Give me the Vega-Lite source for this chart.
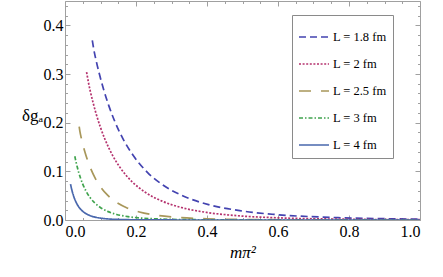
{
  "$schema": "https://vega.github.io/schema/vega-lite/v6.json",
  "autosize": {"type": "none"},
  "padding": {"left": 65, "top": 1, "right": 23, "bottom": 57},
  "width": 355,
  "height": 219,
  "background": "white",
  "config": {
    "view": {"stroke": null},
    "axis": {"domainColor": "#a0a0a0", "tickColor": "#a0a0a0", "labelFont": "Liberation Serif, Times New Roman, serif", "labelFontSize": 16, "labelColor": "#000", "titleFont": "Liberation Serif, Times New Roman, serif", "titleFontWeight": "normal", "titleColor": "#000", "titleFontSize": 17, "grid": false},
    "legend": {"labelFont": "Liberation Serif, Times New Roman, serif"}
  },
  "data": {"values": [
    {"s":"L = 1.8 fm","m2":0.0769,"dg":0.3690},{"s":"L = 1.8 fm","m2":0.0812,"dg":0.3500},{"s":"L = 1.8 fm","m2":0.0876,"dg":0.3278},{"s":"L = 1.8 fm","m2":0.0976,"dg":0.2978},{"s":"L = 1.8 fm","m2":0.1082,"dg":0.2698},{"s":"L = 1.8 fm","m2":0.1231,"dg":0.2355},{"s":"L = 1.8 fm","m2":0.1389,"dg":0.2050},{"s":"L = 1.8 fm","m2":0.1645,"dg":0.1652},{"s":"L = 1.8 fm","m2":0.1923,"dg":0.1324},{"s":"L = 1.8 fm","m2":0.2327,"dg":0.0975},{"s":"L = 1.8 fm","m2":0.2769,"dg":0.0713},{"s":"L = 1.8 fm","m2":0.3376,"dg":0.0479},{"s":"L = 1.8 fm","m2":0.4043,"dg":0.0317},{"s":"L = 1.8 fm","m2":0.4922,"dg":0.0192},{"s":"L = 1.8 fm","m2":0.5889,"dg":0.0115},{"s":"L = 1.8 fm","m2":0.7691,"dg":0.00484},{"s":"L = 1.8 fm","m2":0.9734,"dg":0.0020},{"s":"L = 1.8 fm","m2":1.0,"dg":0.0018},
    {"s":"L = 2 fm","m2":0.0608,"dg":0.3040},{"s":"L = 2 fm","m2":0.0658,"dg":0.2835},{"s":"L = 2 fm","m2":0.0710,"dg":0.2654},{"s":"L = 2 fm","m2":0.0791,"dg":0.2412},{"s":"L = 2 fm","m2":0.0876,"dg":0.2185},{"s":"L = 2 fm","m2":0.0997,"dg":0.1907},{"s":"L = 2 fm","m2":0.1125,"dg":0.1660},{"s":"L = 2 fm","m2":0.1332,"dg":0.1338},{"s":"L = 2 fm","m2":0.1557,"dg":0.1072},{"s":"L = 2 fm","m2":0.1884,"dg":0.0790},{"s":"L = 2 fm","m2":0.2243,"dg":0.0578},{"s":"L = 2 fm","m2":0.2734,"dg":0.0388},{"s":"L = 2 fm","m2":0.3274,"dg":0.0257},{"s":"L = 2 fm","m2":0.3987,"dg":0.0156},{"s":"L = 2 fm","m2":0.4769,"dg":0.00933},{"s":"L = 2 fm","m2":0.6229,"dg":0.00392},{"s":"L = 2 fm","m2":0.7884,"dg":0.00162},{"s":"L = 2 fm","m2":0.9733,"dg":0.00066},{"s":"L = 2 fm","m2":1.0,"dg":0.00059},
    {"s":"L = 2.5 fm","m2":0.0399,"dg":0.1920},{"s":"L = 2.5 fm","m2":0.0421,"dg":0.1815},{"s":"L = 2.5 fm","m2":0.0454,"dg":0.1699},{"s":"L = 2.5 fm","m2":0.0506,"dg":0.1543},{"s":"L = 2.5 fm","m2":0.0561,"dg":0.1398},{"s":"L = 2.5 fm","m2":0.0638,"dg":0.1221},{"s":"L = 2.5 fm","m2":0.0720,"dg":0.1062},{"s":"L = 2.5 fm","m2":0.0853,"dg":0.0856},{"s":"L = 2.5 fm","m2":0.0997,"dg":0.0686},{"s":"L = 2.5 fm","m2":0.1206,"dg":0.0505},{"s":"L = 2.5 fm","m2":0.1435,"dg":0.0370},{"s":"L = 2.5 fm","m2":0.1750,"dg":0.0248},{"s":"L = 2.5 fm","m2":0.2096,"dg":0.0164},{"s":"L = 2.5 fm","m2":0.2552,"dg":0.00996},{"s":"L = 2.5 fm","m2":0.3052,"dg":0.00597},{"s":"L = 2.5 fm","m2":0.3987,"dg":0.00251},{"s":"L = 2.5 fm","m2":0.5046,"dg":0.00104},{"s":"L = 2.5 fm","m2":0.6229,"dg":0.000425},{"s":"L = 2.5 fm","m2":0.8970,"dg":0.00007},{"s":"L = 2.5 fm","m2":1.0,"dg":0.00003},
    {"s":"L = 3 fm","m2":0.0277,"dg":0.1310},{"s":"L = 3 fm","m2":0.0292,"dg":0.1255},{"s":"L = 3 fm","m2":0.0315,"dg":0.1180},{"s":"L = 3 fm","m2":0.0351,"dg":0.1072},{"s":"L = 3 fm","m2":0.0389,"dg":0.0971},{"s":"L = 3 fm","m2":0.0443,"dg":0.0848},{"s":"L = 3 fm","m2":0.0500,"dg":0.0738},{"s":"L = 3 fm","m2":0.0592,"dg":0.0595},{"s":"L = 3 fm","m2":0.0692,"dg":0.0476},{"s":"L = 3 fm","m2":0.0838,"dg":0.0351},{"s":"L = 3 fm","m2":0.0997,"dg":0.0257},{"s":"L = 3 fm","m2":0.1215,"dg":0.0172},{"s":"L = 3 fm","m2":0.1455,"dg":0.0114},{"s":"L = 3 fm","m2":0.1772,"dg":0.00692},{"s":"L = 3 fm","m2":0.2120,"dg":0.00415},{"s":"L = 3 fm","m2":0.2769,"dg":0.00174},{"s":"L = 3 fm","m2":0.3504,"dg":0.00072},{"s":"L = 3 fm","m2":0.4326,"dg":0.0003},{"s":"L = 3 fm","m2":0.6229,"dg":0.00005},{"s":"L = 3 fm","m2":1.0,"dg":0.0},
    {"s":"L = 4 fm","m2":0.0156,"dg":0.0737},{"s":"L = 4 fm","m2":0.0165,"dg":0.0706},{"s":"L = 4 fm","m2":0.0177,"dg":0.0664},{"s":"L = 4 fm","m2":0.0198,"dg":0.0603},{"s":"L = 4 fm","m2":0.0219,"dg":0.0546},{"s":"L = 4 fm","m2":0.0249,"dg":0.0477},{"s":"L = 4 fm","m2":0.0281,"dg":0.0415},{"s":"L = 4 fm","m2":0.0333,"dg":0.0335},{"s":"L = 4 fm","m2":0.0389,"dg":0.0268},{"s":"L = 4 fm","m2":0.0471,"dg":0.0197},{"s":"L = 4 fm","m2":0.0561,"dg":0.0144},{"s":"L = 4 fm","m2":0.0684,"dg":0.00969},{"s":"L = 4 fm","m2":0.0819,"dg":0.00642},{"s":"L = 4 fm","m2":0.0997,"dg":0.00389},{"s":"L = 4 fm","m2":0.1193,"dg":0.00233},{"s":"L = 4 fm","m2":0.1558,"dg":0.00098},{"s":"L = 4 fm","m2":0.1971,"dg":0.00041},{"s":"L = 4 fm","m2":0.2434,"dg":0.00017},{"s":"L = 4 fm","m2":0.3504,"dg":0.00003},{"s":"L = 4 fm","m2":1.0,"dg":0.0}
  ]},
  "layer": [
    {
      "mark": {"type": "line", "strokeWidth": 1.7, "interpolate": "monotone", "clip": true},
      "encoding": {
        "x": {"field": "m2", "type": "quantitative", "scale": {"domain": [0, 1], "nice": false},
              "axis": {"orient": "bottom", "values": [0, 0.2, 0.4, 0.6, 0.8, 1.0], "format": ".1f", "tickSize": -5, "labelPadding": 8, "title": "mπ²", "titleFontStyle": "italic", "titlePadding": 5}},
        "y": {"field": "dg", "type": "quantitative", "scale": {"domain": [0, 0.45], "nice": false},
              "axis": {"orient": "left", "values": [0, 0.1, 0.2, 0.3, 0.4], "format": ".1f", "tickSize": -5, "labelPadding": 7, "title": "δgₐ", "titleAngle": 0, "titleX": -33, "titleY": 114, "titleAlign": "center", "titleBaseline": "middle"}},
        "color": {"field": "s", "type": "nominal",
                  "scale": {"domain": ["L = 1.8 fm", "L = 2 fm", "L = 2.5 fm", "L = 3 fm", "L = 4 fm"], "range": ["#4343b0", "#b5326e", "#a8975a", "#3fa34d", "#4a68ad"]},
                  "legend": {"title": null, "orient": "none", "legendX": 227, "legendY": 14, "symbolType": "stroke", "symbolSize": 900, "symbolStrokeWidth": 1.7, "labelFont": "Liberation Serif, Times New Roman, serif", "labelFontSize": 12.5, "labelColor": "#000", "labelOffset": 3, "strokeColor": "#8a8a8a", "fillColor": "white", "padding": 6, "rowPadding": 4}},
        "strokeDash": {"field": "s", "type": "nominal",
                  "scale": {"domain": ["L = 1.8 fm", "L = 2 fm", "L = 2.5 fm", "L = 3 fm", "L = 4 fm"], "range": [[7, 4], [2, 1.6], [12, 10], [4, 2, 1.5, 2], [1, 0]]},
                  "legend": {"title": null, "orient": "none", "legendX": 227, "legendY": 14, "symbolType": "stroke", "symbolSize": 900, "symbolStrokeWidth": 1.7, "labelFont": "Liberation Serif, Times New Roman, serif", "labelFontSize": 12.5, "labelColor": "#000", "labelOffset": 3, "strokeColor": "#8a8a8a", "fillColor": "white", "padding": 6, "rowPadding": 4}}
      }
    },
    {
      "mark": {"type": "line", "opacity": 0},
      "encoding": {
        "x": {"field": "m2", "type": "quantitative", "axis": {"orient": "bottom", "values": [0.05, 0.1, 0.15, 0.25, 0.3, 0.35, 0.45, 0.5, 0.55, 0.65, 0.7, 0.75, 0.85, 0.9, 0.95], "labels": false, "domain": false, "tickSize": -2.5, "title": null}},
        "y": {"field": "dg", "type": "quantitative", "axis": {"orient": "left", "values": [0.02, 0.04, 0.06, 0.08, 0.12, 0.14, 0.16, 0.18, 0.22, 0.24, 0.26, 0.28, 0.32, 0.34, 0.36, 0.38, 0.42, 0.44], "labels": false, "domain": false, "tickSize": -2.5, "title": null}},
        "detail": {"field": "s"}
      }
    },
    {
      "mark": {"type": "line", "opacity": 0},
      "encoding": {
        "x": {"field": "m2", "type": "quantitative", "axis": {"orient": "top", "values": [0, 0.2, 0.4, 0.6, 0.8, 1.0], "labels": false, "tickSize": -5, "title": null}},
        "y": {"field": "dg", "type": "quantitative", "axis": {"orient": "right", "values": [0, 0.1, 0.2, 0.3, 0.4], "labels": false, "tickSize": -5, "title": null}},
        "detail": {"field": "s"}
      }
    },
    {
      "mark": {"type": "line", "opacity": 0},
      "encoding": {
        "x": {"field": "m2", "type": "quantitative", "axis": {"orient": "top", "values": [0.05, 0.1, 0.15, 0.25, 0.3, 0.35, 0.45, 0.5, 0.55, 0.65, 0.7, 0.75, 0.85, 0.9, 0.95], "labels": false, "domain": false, "tickSize": -2.5, "title": null}},
        "y": {"field": "dg", "type": "quantitative", "axis": {"orient": "right", "values": [0.02, 0.04, 0.06, 0.08, 0.12, 0.14, 0.16, 0.18, 0.22, 0.24, 0.26, 0.28, 0.32, 0.34, 0.36, 0.38, 0.42, 0.44], "labels": false, "domain": false, "tickSize": -2.5, "title": null}},
        "detail": {"field": "s"}
      }
    }
  ],
  "resolve": {"axis": {"x": "independent", "y": "independent"}}
}
